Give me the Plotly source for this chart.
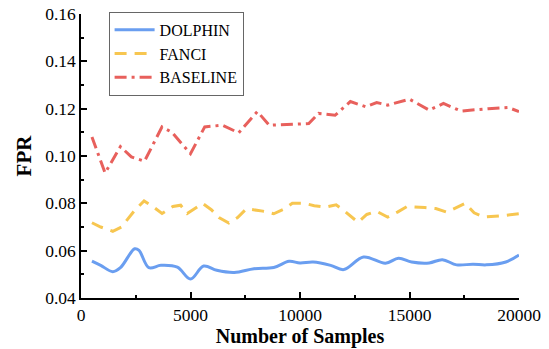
import plotly.graph_objects as go

dolphin_x = [500, 900, 1450, 1800, 2450, 2650, 3100, 3650, 4400, 5000, 5600, 6200, 7000, 7900, 8800, 9500,
             10000, 10600, 11400, 12000, 12900, 13900, 14500, 15100, 15900, 16500, 17150, 17900, 18500, 19400, 20000]
dolphin_y = [0.0556, 0.0538, 0.0511, 0.0528, 0.0608, 0.0601, 0.0528, 0.0538, 0.0530, 0.0480, 0.0535, 0.0517,
             0.0508, 0.0524, 0.0529, 0.0555, 0.0548, 0.0552, 0.0538, 0.0520, 0.0573, 0.0547, 0.0568, 0.0552,
             0.0548, 0.0562, 0.0540, 0.0543, 0.0540, 0.0552, 0.0582]

fanci_x = [500, 900, 1450, 1850, 2450, 2880, 3300, 3700, 4200, 4550, 4850, 5550, 5950, 6300, 6750, 7150, 7550,
           8300, 8800, 9300, 9650, 10200, 10650, 11150, 11650, 12000, 12650, 13050, 13500, 14000, 14450, 14900,
           15700, 16200, 16700, 17550, 17950, 18400, 19300, 20000]
fanci_y = [0.0718, 0.0700, 0.0682, 0.0700, 0.0770, 0.0810, 0.0785, 0.0757, 0.0787, 0.0792, 0.0757, 0.0800,
           0.0773, 0.0740, 0.0717, 0.0740, 0.0777, 0.0767, 0.0756, 0.0777, 0.0800, 0.0800, 0.0790, 0.0784,
           0.0794, 0.0770, 0.0720, 0.0753, 0.0766, 0.0742, 0.0763, 0.0787, 0.0782, 0.0778, 0.0763, 0.0800,
           0.0760, 0.0742, 0.0748, 0.0756]

baseline_x = [500, 1100, 1800, 2300, 2900, 3700, 4150, 5000, 5650, 6450, 7200, 8050, 8600, 9500, 10400, 10850,
              11600, 12300, 13000, 13500, 14000, 15000, 15900, 16550, 17350, 18600, 19500, 20000]
baseline_y = [0.1080, 0.0928, 0.1040, 0.0996, 0.0978, 0.1123, 0.1100, 0.1010, 0.1123, 0.1130, 0.1098, 0.1188,
              0.1130, 0.1134, 0.1137, 0.1180, 0.1172, 0.1230, 0.1208, 0.1226, 0.1215, 0.1240, 0.1194, 0.1222,
              0.1190, 0.1200, 0.1205, 0.1188]

x_ticks = [0, 5000, 10000, 15000, 20000]
y_ticks = [0.04, 0.06, 0.08, 0.10, 0.12, 0.14, 0.16]

FONT = "Liberation Serif"

fig = go.Figure()
fig.add_trace(go.Scatter(x=dolphin_x, y=dolphin_y, name="DOLPHIN", mode="lines",
                         line=dict(color="#6A9EF0", width=3, shape="spline", smoothing=1.0)))
fig.add_trace(go.Scatter(x=fanci_x, y=fanci_y, name="FANCI", mode="lines",
                         line=dict(color="#F7C650", width=3, dash="12px,8px")))
fig.add_trace(go.Scatter(x=baseline_x, y=baseline_y, name="BASELINE", mode="lines",
                         line=dict(color="#E8605C", width=3, dash="12px,5px,3px,5px")))

axis_common = dict(showline=True, linecolor="black", linewidth=1.5, showgrid=False, zeroline=False,
                   ticks="inside", ticklen=6, tickwidth=1.5, tickcolor="black", automargin=False,
                   tickfont=dict(family=FONT, size=17.5, color="black"), mirror=False)

fig.update_layout(
    width=549, height=349,
    margin=dict(l=81, r=30, t=14, b=51),
    paper_bgcolor="white", plot_bgcolor="white",
    font=dict(family=FONT, color="black"),
    showlegend=True,
    legend=dict(x=0.063, y=1.008, xanchor="left", yanchor="top",
                bordercolor="#666666", borderwidth=1, bgcolor="white",
                font=dict(family=FONT, size=16, color="black"),
                tracegroupgap=0, itemwidth=40),
    xaxis=dict(axis_common, range=[0, 20000], tickvals=x_ticks, ticktext=[str(v) for v in x_ticks],
               title=dict(text="<b>Number of Samples</b>", font=dict(family=FONT, size=20), standoff=3),
               minor=dict(ticks="inside", ticklen=3, tickwidth=1.5, tickcolor="black", dtick=2500)),
    yaxis=dict(axis_common, range=[0.04, 0.16], tickvals=y_ticks, ticktext=[f"{v:.2f}" for v in y_ticks],
               title=dict(text="<b>FPR</b>", font=dict(family=FONT, size=21), standoff=8),
               minor=dict(ticks="inside", ticklen=3, tickwidth=1.5, tickcolor="black", dtick=0.01, tick0=0.04)),
)

fig.write_html("out.html")
